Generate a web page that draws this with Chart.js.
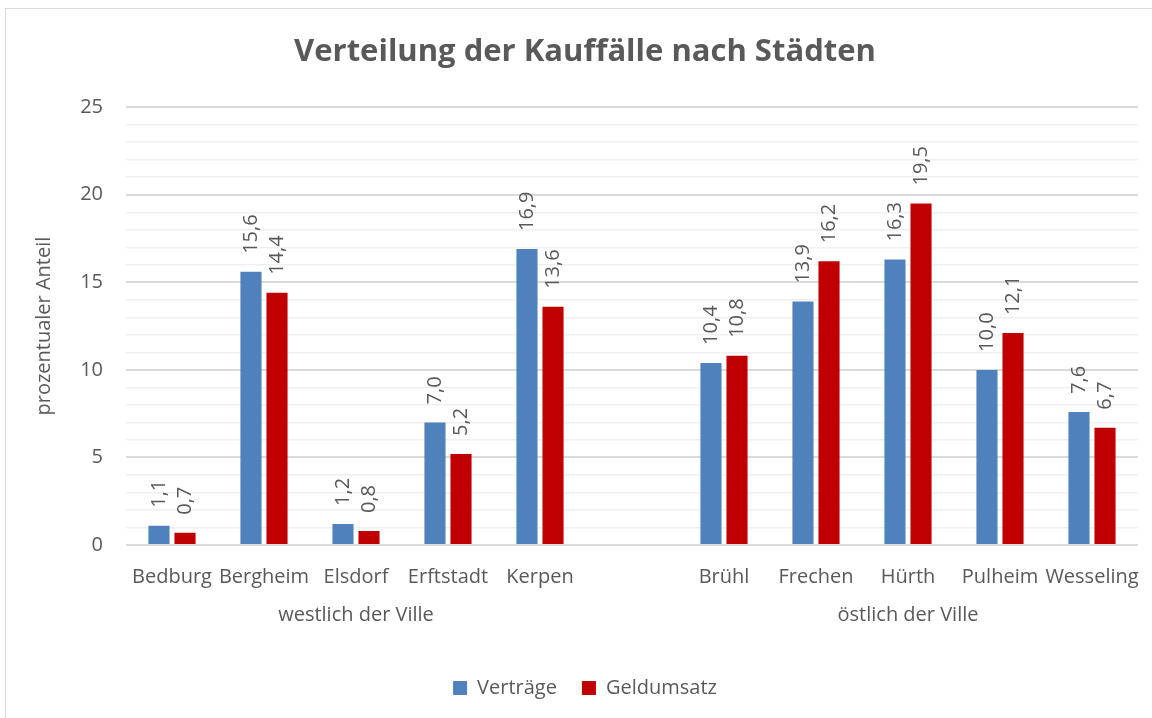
<!DOCTYPE html>
<html>
<head>
<meta charset="utf-8">
<script src="https://cdn.jsdelivr.net/npm/chart.js@4"></script>
<style>
    html, body { margin: 0; padding: 0; background: #fff; overflow: hidden; }
    #box {
        position: absolute; left: 5px; top: 8px;
        width: 1165px; height: 720px;
        border: 1px solid #d9d9d9; background: #fff;
    }
</style>
</head>
<body>
<div id="box"><canvas id="chart"></canvas></div>
<script>
(function () {
    'use strict';

    var cities = ['Bedburg', 'Bergheim', 'Elsdorf', 'Erftstadt', 'Kerpen', '',
                  'Brühl', 'Frechen', 'Hürth', 'Pulheim', 'Wesseling'];
    var groups = [
        { label: 'westlich der Ville', from: 0, to: 4 },
        { label: 'östlich der Ville', from: 6, to: 10 }
    ];
    var vertraege = [1.1, 15.6, 1.2, 7.0, 16.9, null, 10.4, 13.9, 16.3, 10.0, 7.6];
    var geldumsatz = [0.7, 14.4, 0.8, 5.2, 13.6, null, 10.8, 16.2, 19.5, 12.1, 6.7];

    var textColor = '#595959';
    Chart.defaults.font.family = "'Open Sans', 'DejaVu Sans', sans-serif";
    Chart.defaults.color = textColor;

    var valueLabels = {
        id: 'valueLabels',
        afterDatasetsDraw: function (chart) {
            var ctx = chart.ctx;
            ctx.save();
            ctx.font = '20px ' + Chart.defaults.font.family;
            ctx.fillStyle = textColor;
            ctx.textAlign = 'left';
            ctx.textBaseline = 'middle';
            chart.data.datasets.forEach(function (ds, i) {
                chart.getDatasetMeta(i).data.forEach(function (bar, j) {
                    var v = ds.data[j];
                    if (v === null) return;
                    ctx.save();
                    ctx.translate(bar.x, bar.y - 18);
                    ctx.rotate(-Math.PI / 2);
                    ctx.fillText(v.toFixed(1).replace('.', ','), 0, 0);
                    ctx.restore();
                });
            });
            ctx.restore();
        }
    };

    var groupLabels = {
        id: 'groupLabels',
        afterDraw: function (chart) {
            var x = chart.scales.x;
            var ctx = chart.ctx;
            ctx.save();
            ctx.font = '20px ' + Chart.defaults.font.family;
            ctx.fillStyle = textColor;
            ctx.textAlign = 'center';
            ctx.textBaseline = 'middle';
            groups.forEach(function (g) {
                var cx = (x.getPixelForValue(g.from) + x.getPixelForValue(g.to)) / 2;
                ctx.fillText(g.label, cx, x.top + 70);
            });
            ctx.restore();
        }
    };

    new Chart(document.getElementById('chart'), {
        type: 'bar',
        data: {
            labels: cities,
            datasets: [
                { label: 'Verträge', data: vertraege, backgroundColor: '#4f81bd' },
                { label: 'Geldumsatz', data: geldumsatz, backgroundColor: '#c00000' }
            ]
        },
        options: {
            responsive: true,
            maintainAspectRatio: false,
            animation: false,
            categoryPercentage: 0.566,
            barPercentage: 0.81,
            layout: { padding: { left: 26, right: 33, top: 0, bottom: 21 } },
            plugins: {
                title: {
                    display: true,
                    text: 'Verteilung der Kauffälle nach Städten',
                    color: textColor,
                    font: { size: 31, weight: 'bold' },
                    padding: { top: 25, bottom: 36 }
                },
                legend: {
                    position: 'bottom',
                    labels: {
                        boxWidth: 14, boxHeight: 14, padding: 25,
                        color: textColor, font: { size: 20 }
                    }
                },
                tooltip: { enabled: false }
            },
            scales: {
                x: {
                    afterFit: function (s) { s.height = 108; },
                    grid: { display: false, drawTicks: false },
                    border: { display: false },
                    ticks: { autoSkip: false, maxRotation: 0, padding: 20, font: { size: 20 }, color: textColor }
                },
                y: {
                    min: 0, max: 25,
                    afterFit: function (s) { s.width = 94; },
                    title: { display: true, text: 'prozentualer Anteil', font: { size: 20 }, color: textColor, padding: 0 },
                    border: { display: false },
                    grid: {
                        drawTicks: false,
                        color: function (c) { return c.tick.value % 5 === 0 ? '#d9d9d9' : '#f0f0f0'; },
                        lineWidth: function (c) { return c.tick.value % 5 === 0 ? 2 : 1.5; }
                    },
                    ticks: {
                        stepSize: 1, autoSkip: false, maxTicksLimit: 30, padding: 23,
                        font: { size: 20 }, color: textColor,
                        callback: function (v) { return v % 5 === 0 ? v : ''; }
                    }
                }
            }
        },
        plugins: [valueLabels, groupLabels]
    });
})();
</script>
</body>
</html>
